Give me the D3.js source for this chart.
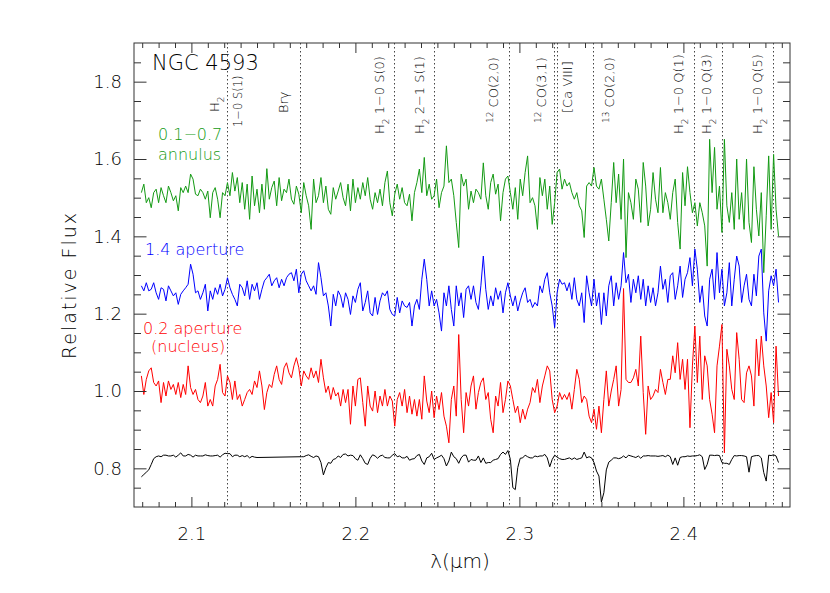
<!DOCTYPE html>
<html>
<head>
<meta charset="utf-8">
<script src="https://cdn.jsdelivr.net/npm/d3@7"></script>
<style>
    body { margin: 0; background: #fff; }
    svg text { font-family: "DejaVu Sans", sans-serif; font-weight: 200; fill: #000; }
    .spec { fill: none; stroke-width: 1; stroke-linejoin: round; }
    .tick line { stroke: #333; }
</style>
</head>
<body>
<div id="chart"></div>
<script>
// spectra share one wavelength grid (micron), first sample and step
var lamStart = 2.0695, lamStep = 0.0015;

// 0.1-0.7 annulus
var annulus = [
    1.513,1.535,1.487,1.500,1.474,1.513,1.522,1.487,1.526,1.505,
    1.487,1.530,1.513,1.492,1.505,1.466,1.526,1.513,1.530,1.513,
    1.561,1.548,1.509,1.505,1.522,1.513,1.496,1.517,1.448,1.513,
    1.526,1.496,1.448,1.513,1.505,1.539,1.505,1.565,1.517,1.552,
    1.487,1.539,1.470,1.535,1.444,1.556,1.479,1.522,1.461,1.535,
    1.470,1.575,1.496,1.526,1.543,1.479,1.552,1.492,1.522,1.513,
    1.548,1.496,1.483,1.530,1.509,1.461,1.539,1.505,1.479,1.418,
    1.548,1.487,1.505,1.552,1.487,1.530,1.470,1.457,1.526,1.496,
    1.517,1.539,1.500,1.479,1.535,1.466,1.548,1.487,1.526,1.496,
    1.539,1.505,1.552,1.496,1.470,1.513,1.487,1.522,1.479,1.539,
    1.569,1.487,1.453,1.509,1.535,1.496,1.526,1.487,1.479,1.509,
    1.440,1.513,1.539,1.574,1.513,1.604,1.505,1.535,1.496,1.505,
    1.548,1.474,1.513,1.530,1.634,1.539,1.548,1.505,1.436,1.371,
    1.561,1.530,1.548,1.470,
    1.517,1.487,1.522,1.513,1.496,1.590,1.505,1.470,1.539,1.561,
    1.509,1.535,1.440,1.513,1.548,1.556,1.513,1.470,1.526,1.444,
    1.548,1.505,1.565,1.608,1.487,1.500,1.479,1.418,1.552,1.505,
    1.548,1.470,1.530,1.431,1.487,1.565,1.574,1.522,1.548,1.530,
    1.539,1.513,1.496,1.513,1.479,1.466,1.397,1.530,1.539,1.530,
    1.578,1.530,1.522,1.548,1.496,1.444,1.388,1.487,1.591,1.487,
    1.561,1.444,1.600,1.345,1.513,1.487,1.444,1.548,1.522,1.436,
    1.591,1.530,1.427,1.470,1.565,1.496,1.461,1.578,1.461,1.513,
    1.487,1.444,1.513,1.548,1.436,1.367,1.565,1.479,1.580,1.513,
    1.461,1.487,1.427,1.487,1.461,1.427,1.323,1.651,1.513,1.630,
    1.470,1.530,1.410,1.651,1.479,1.436,1.513,1.418,1.600,1.444,
    1.513,1.418,1.600,1.436,1.384,1.580,1.470,1.401,1.513,1.306,
    1.453,1.608,1.418,1.612,1.470,1.401
];

// 1.4 arcsec aperture
var aperture = [
    1.272,1.259,1.280,1.259,1.263,1.280,1.254,1.237,1.267,1.263,
    1.233,1.272,1.259,1.246,1.254,1.224,1.250,1.259,1.267,1.276,
    1.328,1.302,1.254,1.259,1.237,1.254,1.276,1.207,1.259,1.237,
    1.267,1.250,1.276,1.246,1.263,1.293,1.267,1.250,1.237,1.220,
    1.276,1.267,1.246,1.285,1.237,1.276,1.259,1.280,1.237,1.263,
    1.285,1.293,1.302,1.272,1.285,1.293,1.267,1.289,1.272,1.293,
    1.302,1.306,1.285,1.315,1.254,1.302,1.311,1.285,1.272,1.259,
    1.272,1.250,1.332,1.293,1.246,1.254,1.220,1.168,1.250,1.220,
    1.259,1.246,1.216,1.254,1.237,1.198,1.246,1.229,1.263,1.280,
    1.207,1.229,1.259,1.202,1.194,1.242,1.198,1.233,1.254,1.246,
    1.259,1.211,1.198,1.194,1.242,1.202,1.233,1.220,1.216,1.229,
    1.168,1.220,1.237,1.211,1.289,1.341,1.289,1.220,1.259,1.220,
    1.237,1.202,1.155,1.254,1.220,1.272,1.211,1.168,1.272,1.220,
    1.254,1.190,1.263,1.272,
    1.237,1.272,1.229,1.211,1.272,1.349,1.263,1.211,1.246,1.220,
    1.267,1.237,1.259,1.202,1.254,1.280,1.246,1.220,1.246,1.207,
    1.233,1.254,1.267,1.229,1.237,1.216,1.229,1.220,1.272,1.254,
    1.289,1.306,1.254,1.220,1.164,1.254,1.289,1.276,1.280,1.259,
    1.280,1.237,1.293,1.237,1.220,1.254,1.177,1.298,1.254,1.220,
    1.289,1.220,1.254,1.172,1.254,1.194,1.272,1.298,1.220,1.280,
    1.237,1.272,1.358,1.280,1.302,1.229,1.289,1.254,1.298,1.237,
    1.289,1.220,1.272,1.229,1.267,1.220,1.254,1.323,1.263,1.289,
    1.229,1.298,1.306,1.237,1.272,1.323,1.242,1.289,1.306,1.345,
    1.272,1.367,1.315,1.229,1.272,1.194,1.168,1.289,1.315,1.237,
    1.358,1.254,1.315,1.220,1.254,1.332,1.220,1.289,1.349,1.323,
    1.229,1.272,1.302,1.237,1.220,1.302,1.246,1.349,1.367,1.202,
    1.129,1.259,1.298,1.272,1.315,1.229
];

// 0.2 arcsec aperture (nucleus)
var nucleus = [
    1.039,0.991,1.030,1.052,1.060,1.022,1.013,1.026,0.970,1.022,
    0.987,1.026,1.004,1.017,0.991,1.022,0.983,1.017,0.991,1.065,
    1.009,0.991,1.004,0.978,0.970,0.987,1.022,0.961,0.978,0.961,
    1.013,1.030,1.069,0.996,0.987,1.039,1.022,0.978,1.026,0.978,
    0.991,0.961,0.978,0.996,1.004,0.991,1.026,1.009,1.052,1.013,
    0.952,0.996,1.017,1.009,1.043,1.065,1.030,1.017,1.060,1.073,
    1.047,1.034,1.065,1.086,1.060,1.013,1.052,1.039,1.030,1.060,
    1.034,1.052,1.022,1.082,1.034,0.996,1.013,0.978,1.009,0.987,
    0.996,0.961,1.004,0.970,1.004,0.914,1.013,0.961,1.030,1.034,
    0.970,0.909,1.013,0.961,0.948,1.000,0.944,0.987,0.961,1.004,
    0.961,0.987,0.974,0.909,0.978,0.996,0.961,1.004,0.944,0.987,
    0.940,0.978,0.935,0.978,0.927,1.039,0.974,0.944,1.000,0.931,
    0.987,0.952,0.996,0.935,0.909,0.866,0.978,1.013,0.935,1.146,
    0.978,0.892,0.996,0.961,
    1.013,1.039,0.953,0.996,1.022,1.034,0.978,0.996,0.927,0.892,
    0.987,0.961,1.022,0.944,0.978,1.026,1.013,0.978,0.944,0.961,
    0.918,0.953,0.927,0.953,0.970,1.009,0.996,1.030,0.970,1.013,
    1.039,1.065,1.052,0.978,0.944,0.961,0.996,0.978,0.991,0.978,
    0.996,0.953,1.004,1.056,1.030,0.970,0.987,0.978,0.935,0.918,
    0.953,0.901,0.961,0.892,0.978,1.052,0.961,1.000,1.030,1.065,
    0.961,1.004,1.265,1.030,1.022,1.022,1.034,1.056,1.013,1.142,
    0.996,0.888,1.013,0.978,0.987,1.004,0.996,1.056,1.022,0.991,
    1.030,1.030,1.091,1.047,1.125,1.030,1.082,1.004,1.082,0.905,
    1.065,1.168,1.022,1.142,0.978,1.091,1.065,0.978,0.940,0.892,
    1.065,1.116,1.172,0.840,1.108,1.065,1.004,0.978,1.151,1.082,
    0.978,0.970,1.047,1.065,1.039,0.961,1.134,1.039,1.142,1.065,
    1.013,0.931,0.996,0.918,1.116,0.987
];

// stellar template, no data between 2.14 and 2.166
var template = [
    0.778,0.784,0.790,0.796,0.810,0.825,0.830,0.832,0.830,0.834,
    0.834,0.832,0.832,0.834,0.829,0.834,0.840,0.832,0.832,0.836,
    0.834,0.829,0.834,0.832,0.832,0.832,0.835,0.833,0.832,0.832,
    0.833,0.834,0.829,0.835,0.839,0.838,0.838,0.830,0.834,0.834,
    0.830,0.833,0.830,0.833,0.827,0.831,0.829,0.828,
    null,null,null,null,null,null,null,null,null,null,
    null,null,null,null,null,null,null,
    0.830,0.830,0.833,0.835,0.831,0.828,0.832,0.830,0.815,0.783,
    0.802,0.815,0.813,0.823,0.825,0.832,0.828,0.836,0.837,0.832,
    0.834,0.833,0.825,0.821,0.835,0.825,0.813,0.810,0.826,0.835,
    0.832,0.826,0.832,0.834,0.828,0.827,0.827,0.834,0.838,0.830,
    0.832,0.827,0.827,0.831,0.821,0.824,0.825,0.833,0.836,0.819,
    0.810,0.827,0.830,0.839,0.823,0.827,0.830,0.834,0.825,0.806,
    0.819,0.842,0.830,0.825,0.813,0.827,0.834,0.834,0.816,
    0.823,0.821,0.821,0.832,0.815,0.827,0.813,0.815,0.815,0.821,
    0.823,0.825,0.836,0.842,0.836,0.846,0.823,0.750,0.745,0.802,
    0.826,0.827,0.834,0.830,0.827,0.827,0.832,0.830,0.832,0.832,
    0.836,0.827,0.804,0.823,0.834,0.829,0.825,0.823,0.823,0.825,
    0.827,0.823,0.827,0.823,0.825,0.827,0.842,0.827,0.830,0.827,
    0.815,0.793,0.780,0.713,0.737,0.796,0.816,0.821,0.827,0.827,
    0.825,0.827,0.832,0.827,0.834,0.832,0.830,0.828,0.832,0.826,
    0.832,0.832,0.833,0.832,0.832,0.832,0.831,0.832,0.833,0.830,
    0.834,0.830,0.810,0.827,0.808,0.828,0.830,0.830,0.832,0.831,
    0.832,0.832,0.833,0.835,0.830,0.797,0.810,0.834,0.834,0.833,
    0.834,0.833,0.815,0.813,0.813,0.810,0.823,0.833,0.832,0.833,
    0.833,0.832,0.830,0.790,0.830,0.832,0.833,0.833,0.827,0.789,
    0.767,0.834,0.833,0.835,0.832,0.815
];

var xTicks = [2.1, 2.2, 2.3, 2.4];
var yTicks = [0.8, 1.0, 1.2, 1.4, 1.6, 1.8];

// rest wavelengths of the marked lines
var lineWaves = [2.1218, 2.1661, 2.2235, 2.2477, 2.2935, 2.3213, 2.3227, 2.3448, 2.4066, 2.4237, 2.4548];

// set the dimensions and margins of the graph
var margin = {top: 43, right: 40, bottom: 86, left: 134},
    width = 830 - margin.left - margin.right,
    height = 593 - margin.top - margin.bottom;

var x = d3.scaleLinear().domain([2.065, 2.465]).range([0, width]);
var y = d3.scaleLinear().domain([0.7, 1.9]).range([height, 0]);

var svg = d3.select("#chart")
    .append("svg")
        .attr("width", width + margin.left + margin.right)
        .attr("height", height + margin.top + margin.bottom)
    .append("g")
        .attr("transform", "translate(" + margin.left + "," + margin.top + ")");

// minor tick positions
var xMinor = d3.range(207, 247).map(function(d) { return d / 100; })
    .filter(function(d) { return xTicks.indexOf(d) < 0; });
var yMinor = d3.range(15, 38).map(function(d) { return d / 20; })
    .filter(function(d) { return Math.abs(Math.round(d * 5) - d * 5) > 1e-6; });

function drawAxes() {
    var parts = [
        {ax: d3.axisBottom(x).tickValues(xTicks).tickSize(-10).tickPadding(20).tickFormat(d3.format(".1f")), t: "translate(0," + height + ")"},
        {ax: d3.axisBottom(x).tickValues(xMinor).tickSize(-5).tickFormat(""), t: "translate(0," + height + ")"},
        {ax: d3.axisTop(x).tickValues(xTicks).tickSize(-10).tickFormat(""), t: null},
        {ax: d3.axisTop(x).tickValues(xMinor).tickSize(-5).tickFormat(""), t: null},
        {ax: d3.axisLeft(y).tickValues(yTicks).tickSize(-12.5).tickPadding(12).tickFormat(d3.format(".1f")), t: null},
        {ax: d3.axisLeft(y).tickValues(yMinor).tickSize(-7).tickFormat(""), t: null},
        {ax: d3.axisRight(y).tickValues(yTicks).tickSize(-12.5).tickFormat(""), t: "translate(" + width + ",0)"},
        {ax: d3.axisRight(y).tickValues(yMinor).tickSize(-7).tickFormat(""), t: "translate(" + width + ",0)"}
    ];
    parts.forEach(function(p) {
        var g = svg.append("g").call(p.ax);
        if (p.t) g.attr("transform", p.t);
        g.select(".domain").remove();
        g.selectAll("text").style("font-size", "18px").attr("fill", "#000")
            .style("font-family", "'DejaVu Sans', sans-serif").style("font-weight", "200");
    });
    svg.append("rect")
        .attr("width", width).attr("height", height)
        .attr("fill", "none").attr("stroke", "#333");
}

function drawLines() {
    svg.selectAll(".marker").data(lineWaves).enter()
        .append("line")
        .attr("class", "marker")
        .attr("x1", function(d) { return Math.round(x(d)) + 0.5; })
        .attr("x2", function(d) { return Math.round(x(d)) + 0.5; })
        .attr("y1", 0).attr("y2", height)
        .attr("stroke", "#444").attr("stroke-dasharray", "1.5,2.5");
}

function drawSpectrum(values, colour) {
    var pts = values.map(function(v, i) { return {lam: lamStart + i * lamStep, value: v}; })
        .filter(function(d) { return d.value !== null; });
    var valueline = d3.line()
        .x(function(d) { return x(d.lam); })
        .y(function(d) { return y(d.value); });
    svg.append("path")
        .data([pts])
        .attr("class", "spec")
        .attr("stroke", colour)
        .attr("d", valueline);
}

// rotated line identifications: wavelength, offset of the baseline, bottom end, text pieces
var lineLabels = [
    {at: 2.1218, dx: -8,  y: 69, size: 13,   parts: [["H", ""], ["2", "sub"]]},
    {at: 2.1218, dx: 15,  y: 84, size: 11.5, parts: [["1\u22120 S(1)", ""]]},
    {at: 2.1661, dx: -12, y: 70, size: 13,   parts: [["Br\u03b3", ""]]},
    {at: 2.2235, dx: -10, y: 91, size: 13,   parts: [["H", ""], ["2", "sub"], [" 1\u22120 S(0)", ""]]},
    {at: 2.2477, dx: -10, y: 91, size: 13,   parts: [["H", ""], ["2", "sub"], [" 2\u22121 S(1)", ""]]},
    {at: 2.2935, dx: -11, y: 80, size: 13,   parts: [["12", "super"], [" CO(2,0)", ""]]},
    {at: 2.3227, dx: -11, y: 80, size: 13,   parts: [["12", "super"], [" CO(3,1)", ""]]},
    {at: 2.3213, dx: 18,  y: 70, size: 13,   parts: [["[Ca VIII]", ""]]},
    {at: 2.3448, dx: 21,  y: 80, size: 13,   parts: [["13", "super"], [" CO(2,0)", ""]]},
    {at: 2.4066, dx: -11, y: 91, size: 13,   parts: [["H", ""], ["2", "sub"], [" 1\u22120 Q(1)", ""]]},
    {at: 2.4237, dx: -11, y: 91, size: 13,   parts: [["H", ""], ["2", "sub"], [" 1\u22120 Q(3)", ""]]},
    {at: 2.4548, dx: -11, y: 91, size: 13,   parts: [["H", ""], ["2", "sub"], [" 1\u22120 Q(5)", ""]]}
];

function drawLineLabels() {
    lineLabels.forEach(function(l) {
        var t = svg.append("text")
            .attr("transform", "translate(" + (x(l.at) + l.dx) + "," + l.y + ") rotate(-90)")
            .style("font-size", l.size + "px");
        l.parts.forEach(function(p) {
            var s = t.append("tspan").text(p[0]);
            if (p[1]) s.attr("baseline-shift", p[1]).style("font-size", "9px");
        });
    });
}

// series names and other free text, page coordinates
var notes = [
    {text: "NGC 4593", x: 152, y: 70, size: 21, colour: "#000"},
    {text: "0.1\u22120.7", x: 158, y: 140, size: 16, colour: "#139a13"},
    {text: "annulus", x: 158, y: 160, size: 16, colour: "#139a13"},
    {text: "1.4 aperture", x: 145, y: 255, size: 16, colour: "#0000ff"},
    {text: "0.2 aperture", x: 143, y: 333.5, size: 16, colour: "#ff0000"},
    {text: "(nucleus)", x: 151, y: 352, size: 16, colour: "#ff0000"}
];

function drawNotes() {
    notes.forEach(function(n) {
        svg.append("text")
            .attr("x", n.x - margin.left).attr("y", n.y - margin.top)
            .style("font-size", n.size + "px")
            .style("fill", n.colour)
            .text(n.text);
    });
    svg.append("text")
        .attr("transform", "translate(" + (76 - margin.left) + "," + (285 - margin.top) + ") rotate(-90)")
        .attr("text-anchor", "middle")
        .style("font-size", "19px").style("letter-spacing", "2px")
        .text("Relative Flux");
    svg.append("text")
        .attr("x", 460 - margin.left).attr("y", 568 - margin.top)
        .attr("text-anchor", "middle")
        .style("font-size", "20px")
        .text("\u03bb(\u03bcm)");
}

drawLines();
drawSpectrum(template, "#000");
drawSpectrum(nucleus, "#ff0000");
drawSpectrum(aperture, "#0000ff");
drawSpectrum(annulus, "#139a13");
drawAxes();
drawLineLabels();
drawNotes();
</script>
</body>
</html>
